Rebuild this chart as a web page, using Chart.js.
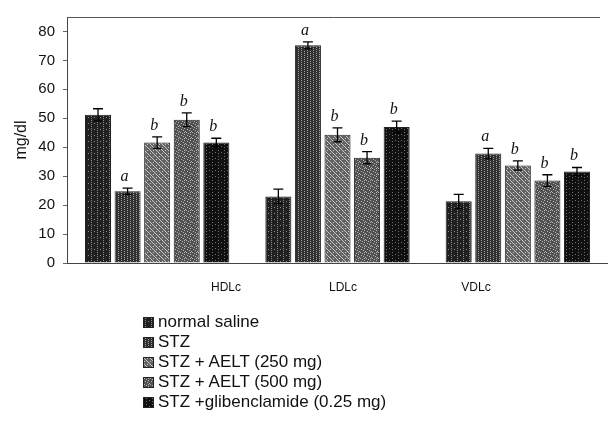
<!DOCTYPE html>
<html>
<head>
<meta charset="utf-8">
<script src="https://cdn.jsdelivr.net/npm/chart.js@4.4.0/dist/chart.umd.min.js"></script>
<style>
  body { margin: 0; background: #fff; }
  #wrap { position: relative; width: 608px; height: 426px; }
  #legenda { position: absolute; left: 143px; top: 312px; font: 17px "Liberation Sans", Arial, sans-serif; color: #111; }
  #legenda div { height: 20px; line-height: 20px; display: flex; align-items: center; }
  #legenda canvas { border: 1px solid #222; margin-right: 4px; }
</style>
</head>
<body>
<div id="wrap">
  <canvas id="grafico" width="608" height="300"></canvas>
  <div id="legenda"></div>
</div>
<script>
const categorias = ['HDLc', 'LDLc', 'VDLc'];
const grupos = ['normal saline', 'STZ', 'STZ + AELT (250 mg)', 'STZ + AELT (500 mg)', 'STZ +glibenclamide (0.25 mg)'];

const salina = [51.2, 23.0, 21.3];
const stz = [24.8, 75.2, 37.8];
const aelt250 = [41.6, 44.3, 33.7];
const aelt500 = [49.5, 36.4, 28.5];
const glib = [41.6, 47.0, 31.6];

const erroSalina = [2.1, 2.5, 2.4];
const erroStz = [1.1, 1.2, 1.8];
const erroAelt250 = [2.0, 2.4, 1.6];
const erroAelt500 = [2.4, 2.1, 2.0];
const erroGlib = [1.5, 2.0, 1.4];

const letras = [
  ['', '', ''],
  ['a', 'a', 'a'],
  ['b', 'b', 'b'],
  ['b', 'b', 'b'],
  ['b', 'b', 'b']
];

const yTicks = [0, 10, 20, 30, 40, 50, 60, 70, 80];

// texturas das barras (pontos fixos, sem aleatório)
function textura(fundo, ponto, pontos) {
  const c = document.createElement('canvas');
  c.width = 6; c.height = 6;
  const g = c.getContext('2d');
  g.fillStyle = fundo;
  g.fillRect(0, 0, 6, 6);
  g.fillStyle = ponto;
  pontos.forEach(p => g.fillRect(p[0], p[1], 1, 1));
  return c;
}

const texturas = [
  textura('#202020', '#8c8c8c', [[1, 0], [1, 2], [4, 3], [1, 4]]),
  textura('#303030', '#a0a0a0', [[1, 0], [1, 2], [1, 4], [4, 1], [4, 3], [4, 5]]),
  textura('#626262', '#c8c8c8', [[0, 0], [1, 1], [2, 2], [3, 3], [4, 4], [5, 5], [3, 0], [0, 3]]),
  textura('#505050', '#b4b4b4', [[0, 0], [2, 1], [4, 2], [1, 3], [3, 4], [5, 5], [4, 0]]),
  textura('#101010', '#707070', [[2, 0], [2, 3], [5, 2]])
];

const ctx = document.getElementById('grafico').getContext('2d');
const padroes = texturas.map(t => ctx.createPattern(t, 'repeat'));

const valores = [salina, stz, aelt250, aelt500, glib];
const erros = [erroSalina, erroStz, erroAelt250, erroAelt500, erroGlib];

// legenda em html
const legenda = document.getElementById('legenda');
grupos.forEach((nome, i) => {
  const linha = document.createElement('div');
  const sw = document.createElement('canvas');
  sw.width = 9; sw.height = 9;
  const g = sw.getContext('2d');
  g.fillStyle = g.createPattern(texturas[i], 'repeat');
  g.fillRect(0, 0, 9, 9);
  linha.appendChild(sw);
  linha.appendChild(document.createTextNode(nome));
  legenda.appendChild(linha);
});

// barras de erro, letras, borda de cima e rótulos das categorias
const extras = {
  id: 'extras',
  afterDatasetsDraw(chart) {
    const c = chart.ctx;
    const y = chart.scales.y;
    const area = chart.chartArea;
    c.save();
    c.strokeStyle = '#000';
    c.lineWidth = 1.3;
    valores.forEach((serie, i) => {
      const meta = chart.getDatasetMeta(i);
      meta.data.forEach((bar, j) => {
        const topo = y.getPixelForValue(serie[j] + erros[i][j]);
        const base = y.getPixelForValue(serie[j] - erros[i][j]);
        c.beginPath();
        c.moveTo(bar.x, base); c.lineTo(bar.x, topo);
        c.moveTo(bar.x - 5, topo); c.lineTo(bar.x + 5, topo);
        c.moveTo(bar.x - 4, base); c.lineTo(bar.x + 4, base);
        c.stroke();
        if (letras[i][j]) {
          c.fillStyle = '#111';
          c.font = 'italic 16px "Liberation Serif", serif';
          c.textAlign = 'center';
          c.textBaseline = 'alphabetic';
          c.fillText(letras[i][j], bar.x - 3, topo - 7);
        }
      });
    });
    c.strokeStyle = '#555';
    c.lineWidth = 1;
    c.beginPath();
    c.moveTo(area.left, area.top + 0.5);
    c.lineTo(600, area.top + 0.5);
    c.stroke();

    const posX = [226, 343, 476];
    c.fillStyle = '#111';
    c.font = '12px "Liberation Sans", Arial, sans-serif';
    c.textAlign = 'center';
    c.textBaseline = 'middle';
    categorias.forEach((cat, i) => c.fillText(cat, posX[i], 288));
    c.restore();
  }
};

new Chart(ctx, {
  type: 'bar',
  data: {
    labels: categorias,
    datasets: valores.map((serie, i) => ({
      label: grupos[i],
      data: serie,
      backgroundColor: padroes[i],
      borderColor: '#222',
      borderWidth: 1,
      categoryPercentage: 0.82,
      barPercentage: 0.88
    }))
  },
  options: {
    responsive: false,
    animation: false,
    layout: { padding: { top: 15, bottom: 29, right: 0, left: 0 } },
    plugins: {
      legend: { display: false },
      tooltip: { enabled: false }
    },
    scales: {
      x: {
        ticks: { display: false },
        grid: { display: false },
        border: { color: '#444', width: 1 }
      },
      y: {
        min: 0,
        max: 85,
        afterBuildTicks: (s) => { s.ticks = yTicks.map(v => ({ value: v })); },
        afterFit: (s) => { s.width = 67; },
        ticks: {
          color: '#111',
          font: { family: '"Liberation Sans", Arial, sans-serif', size: 15 },
          padding: 8
        },
        grid: { drawOnChartArea: false, drawTicks: true, tickLength: 4, color: '#666' },
        border: { color: '#444', width: 1 },
        title: {
          display: true,
          text: 'mg/dl',
          color: '#111',
          font: { family: '"Liberation Sans", Arial, sans-serif', size: 16 },
          padding: { top: 12, bottom: 6 }
        }
      }
    }
  },
  plugins: [extras]
});
</script>
</body>
</html>
